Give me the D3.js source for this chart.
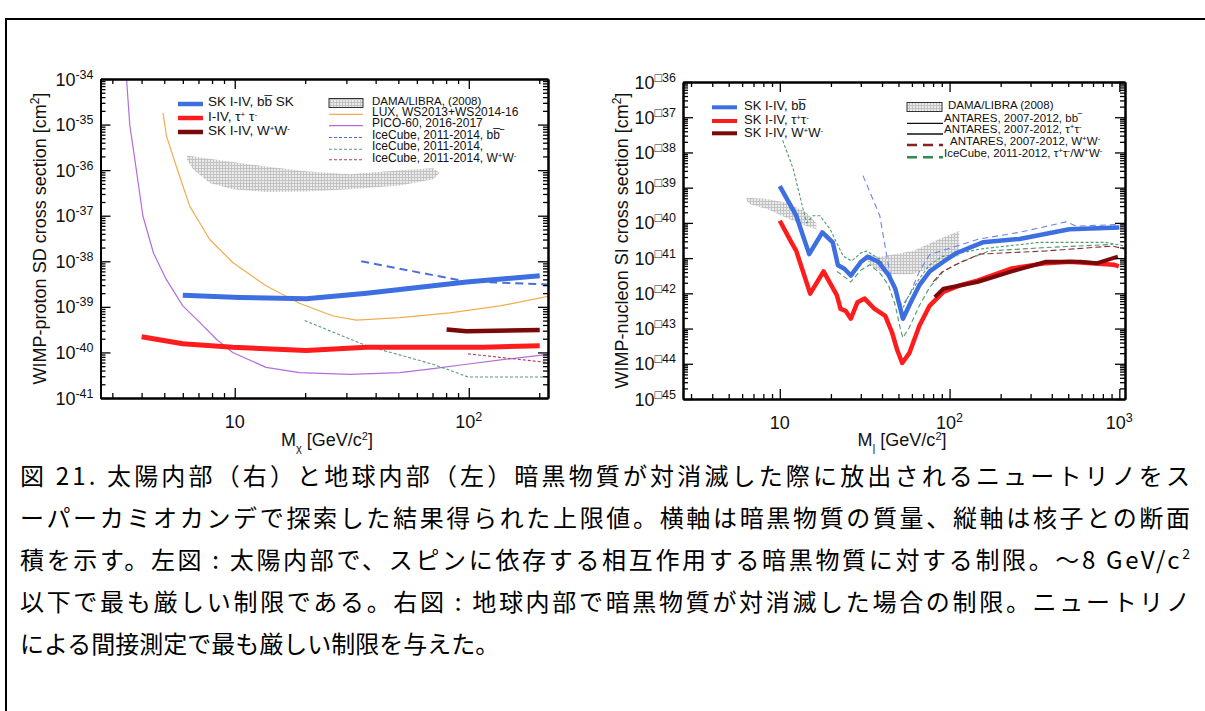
<!DOCTYPE html>
<html>
<head>
<meta charset="utf-8">
<script src="https://cdn.jsdelivr.net/npm/d3@7"></script>
<style>
body { margin: 0; background: #fff; }
svg text { font-family: "Liberation Sans", Arial, sans-serif; fill: #111; }
svg text.caption { font-family: "Noto Sans CJK JP", sans-serif; fill: #000; }
</style>
</head>
<body>
<svg id="fig" width="1205" height="711"></svg>
<script>
// ---------- left panel data (SD, Sun) : mass [GeV], cross section [cm2]
var picoMass  = [3.45, 3.56, 3.8, 4.05, 4.5, 5.1, 6.0, 7.1, 8.35, 9.8, 13.6, 18.9, 31, 50.7, 70.4, 97.8, 145, 218];
var picoSigma = [1e-34, 1e-35, 1e-36, 1e-37, 1.5e-38, 4.0e-39, 1.05e-39, 4.5e-40, 1.95e-40, 1.0e-40, 4.7e-41, 3.6e-41, 3.3e-41, 3.6e-41, 4.4e-41, 5.5e-41, 7.1e-41, 9.1e-41];
var luxMass   = [4.94, 5.11, 5.63, 6.43, 7.82, 9.83, 13.6, 18.9, 26.3, 33.1, 50.7, 83, 136, 218];
var luxSigma  = [1.8e-35, 5.6e-36, 1.2e-36, 1.6e-37, 3.0e-38, 9.3e-39, 2.9e-39, 1.2e-39, 6.3e-40, 5.1e-40, 5.8e-40, 7.4e-40, 1.05e-39, 1.7e-39];
var skBbMass  = [6.0, 10.5, 20.2, 36.6, 70.4, 97.8, 201];
var skBbSigma = [1.8e-39, 1.6e-39, 1.5e-39, 2.0e-39, 2.9e-39, 3.5e-39, 4.8e-39];
var skTauMass  = [4.0, 6.0, 9.8, 20.2, 36.6, 70.4, 115, 201];
var skTauSigma = [2.2e-40, 1.55e-40, 1.3e-40, 1.1e-40, 1.3e-40, 1.3e-40, 1.3e-40, 1.4e-40];
var skWWMass  = [80.4, 97.8, 201];
var skWWSigma = [3.2e-40, 2.9e-40, 3.1e-40];
var iceBbMass  = [34.7, 94.6, 136, 218];
var iceBbSigma = [1.0e-38, 3.7e-39, 3.4e-39, 3.1e-39];
var iceTauMass  = [19.9, 36.6, 70.4, 99.3, 218];
var iceTauSigma = [5.0e-40, 1.4e-40, 5.5e-41, 2.9e-41, 2.9e-41];
var iceWWMass  = [99.3, 218];
var iceWWSigma = [9.3e-41, 6.0e-41];
// DAMA/LIBRA contour, upper edge then lower edge
var damaLMass  = [6.25, 8.35, 13.6, 20.2, 31, 50.7, 70.4, 75.2, 70.4, 50.7, 31, 20.2, 13.6, 9.83, 7.82, 6.63, 6.25];
var damaLSigma = [2.1e-36, 1.7e-36, 1.2e-36, 9.5e-37, 8.1e-37, 1.0e-36, 1.1e-36, 8.7e-37, 6.3e-37, 4.6e-37, 3.8e-37, 3.4e-37, 3.3e-37, 3.8e-37, 5.2e-37, 1.05e-36, 1.7e-36];

// ---------- right panel data (SI, Earth)
var rBbMass  = [10, 12.5, 14.9, 17.8, 20.5, 22, 24, 26.2, 30.1, 33, 38, 43.7, 47.9, 53.1, 59.1, 66.4, 76.4, 92, 110, 157, 258, 508, 1000];
var rBbSigma = [1.1e-39, 1.6e-40, 1.3e-41, 5.4e-41, 2.8e-41, 6.3e-42, 5.0e-42, 3.2e-42, 7.9e-42, 1.1e-41, 7.9e-42, 3.3e-42, 1.35e-42, 1.9e-43, 5.6e-43, 1.7e-42, 4.2e-42, 7.9e-42, 1.4e-41, 2.8e-41, 3.5e-41, 6.6e-41, 7.4e-41];
var rTauMass  = [10, 11.7, 12.5, 15.1, 18.1, 21.7, 22.8, 24.4, 26.2, 28.7, 31.6, 36.2, 41.8, 45.9, 49.1, 52.6, 57.9, 66.4, 76.4, 92, 116, 146, 233, 370, 510, 926, 993];
var rTauSigma = [1.15e-40, 2.8e-41, 1.6e-41, 9.8e-43, 4.2e-42, 8.7e-43, 3.6e-43, 3.2e-43, 1.9e-43, 5.6e-43, 7.1e-43, 3.6e-43, 2.3e-43, 7.6e-44, 2.5e-44, 1.05e-44, 2.0e-44, 1.2e-43, 4.5e-43, 1.1e-42, 1.7e-42, 2.3e-42, 5.1e-42, 7.2e-42, 7.9e-42, 6.5e-42, 5.8e-42];
var rWWMass  = [81.8, 92, 146, 233, 370, 590, 740, 980];
var rWWSigma = [7.8e-43, 1.35e-42, 2.1e-42, 4.2e-42, 7.9e-42, 7.9e-42, 7.2e-42, 1.1e-41];
var rIceBbMass  = [30.9, 38.8, 44, 49.1, 52.6, 57.9, 66.4, 76.4, 150, 258, 486, 556, 1080];
var rIceBbSigma = [2.2e-39, 1.6e-40, 5.0e-42, 7.1e-43, 4.5e-43, 8.7e-43, 4.2e-42, 1.26e-41, 3.5e-41, 5.4e-41, 1.07e-40, 8.1e-41, 9.1e-41];
var rIceAMass  = [10.4, 12, 13.7, 14.4, 15.7, 17.2, 19.8, 23.6, 26.5, 30, 32.4, 38.8, 44, 48, 52.6, 57, 66, 76, 90, 105, 150, 340, 830, 1080];
var rIceASigma = [2.2e-38, 3.4e-39, 2.5e-40, 1.0e-40, 1.6e-40, 1.6e-40, 6.6e-41, 1.15e-41, 8.3e-42, 1.4e-41, 1.6e-41, 9.3e-42, 3.2e-42, 1.0e-42, 3.5e-43, 7.9e-43, 2.5e-42, 6.3e-42, 1.1e-41, 1.26e-41, 1.8e-41, 2.8e-41, 2.8e-41, 2.2e-41];
var rIceBMass  = [21.7, 23.3, 26.2, 30.1, 33.8, 39, 43.7, 47.9, 51.4, 53.1, 57.9, 66.4, 76.4, 92, 120, 172, 371, 913];
var rIceBSigma = [4.2e-42, 3.3e-42, 2.1e-42, 4.6e-42, 6.5e-42, 3.7e-42, 1.7e-42, 4.5e-43, 9.5e-44, 5.5e-44, 1.07e-43, 4.5e-43, 1.5e-42, 4.2e-42, 8.3e-42, 1.6e-41, 2.0e-41, 2.45e-41];
var rAntWWMass  = [80, 90, 105, 150, 371, 913, 1080];
var rAntWWSigma = [2.1e-42, 4.0e-42, 6.0e-42, 1.3e-41, 1.6e-41, 2.2e-41, 1.8e-41];
var rDama1Mass  = [6.37, 8.35, 10.9, 14.3, 16.4, 16.4, 14.3, 10.9, 8.35, 6.66, 6.37];
var rDama1Sigma = [5.2e-40, 4.8e-40, 3.8e-40, 2.0e-40, 1.0e-40, 6.6e-41, 8.1e-41, 1.4e-40, 2.5e-40, 3.4e-40, 4.3e-40];
var rDama2Mass  = [33, 39, 61, 87, 114, 114, 90, 76, 60, 45, 36, 33];
var rDama2Sigma = [1.26e-41, 1.1e-41, 1.6e-41, 3.5e-41, 5.9e-41, 1.15e-41, 7.9e-42, 5.0e-42, 3.5e-42, 3.5e-42, 5.0e-42, 7.9e-42];

// ---------- tick labels
var leftXLabels  = [[10, "10"], [100, "10^{2}"]];
var rightXLabels = [[10, "10"], [100, "10^{2}"], [1000, "10^{3}"]];
var leftYExp  = [-34, -35, -36, -37, -38, -39, -40, -41];
var rightYExp = [-36, -37, -38, -39, -40, -41, -42, -43, -44, -45];

// ---------- caption
var captionLines = [
  "図 21. 太陽内部（右）と地球内部（左）暗黒物質が対消滅した際に放出されるニュートリノをス",
  "ーパーカミオカンデで探索した結果得られた上限値。横軸は暗黒物質の質量、縦軸は核子との断面",
  "積を示す。左図 : 太陽内部で、スピンに依存する相互作用する暗黒物質に対する制限。～8 GeV/c^{2}",
  "以下で最も厳しい制限である。右図 : 地球内部で暗黒物質が対消滅した場合の制限。ニュートリノ",
  "による間接測定で最も厳しい制限を与えた。"
];

var svg = d3.select("#fig");

// hatch used for DAMA/LIBRA regions
var pat = svg.append("defs").append("pattern")
    .attr("id", "hatch").attr("patternUnits", "userSpaceOnUse")
    .attr("width", 3).attr("height", 3);
pat.append("rect").attr("width", 3).attr("height", 3).attr("fill", "#ebebeb");
pat.append("path").attr("d", "M0,0.5H3M0.5,0V3").attr("stroke", "#c2c2c2").attr("stroke-width", 1);

// page frame
svg.append("path").attr("d", "M6,711V19H1205").attr("fill", "none").attr("stroke", "#000").attr("stroke-width", 2);

// writes "a^{b}" / "a_{b}" as tspans
function rich(t, s, small) {
  s.split(/(\^\{[^}]*\}|_\{[^}]*\})/).forEach(function(p) {
    if (!p) return;
    if (p[0] === "^") t.append("tspan").attr("baseline-shift", "super").attr("font-size", small).text(p.slice(2, -1));
    else if (p[0] === "_") t.append("tspan").attr("baseline-shift", "sub").attr("font-size", small).text(p.slice(2, -1));
    else t.append("tspan").text(p);
  });
}

function drawPanel(cfg) {
  var g = svg.append("g");
  var x = d3.scaleLog().domain(cfg.xDomain).range(cfg.xRange);
  var y = d3.scaleLog().domain(cfg.yDomain).range(cfg.yRange);
  var line = d3.line().x(function(d) { return x(d[0]); }).y(function(d) { return y(d[1]); });

  // regions
  cfg.regions.forEach(function(r) {
    g.append("path").datum(d3.zip(r[0], r[1]))
      .attr("d", function(d) { return line(d) + "Z"; })
      .attr("fill", "url(#hatch)").attr("stroke", "none");
  });

  // curves
  var clip = "clip" + cfg.id;
  g.append("clipPath").attr("id", clip).append("rect")
    .attr("x", cfg.xRange[0]).attr("y", cfg.yRange[1])
    .attr("width", cfg.xRange[1] - cfg.xRange[0]).attr("height", cfg.yRange[0] - cfg.yRange[1]);
  cfg.series.forEach(function(s) {
    g.append("path").datum(d3.zip(s.m, s.v))
      .attr("clip-path", "url(#" + clip + ")")
      .attr("d", line).attr("fill", "none")
      .attr("stroke", s.color).attr("stroke-width", s.w)
      .attr("stroke-dasharray", s.dash || null)
      .attr("stroke-linejoin", "round");
  });

  // ticks on four sides, pointing inward
  var xMajor = [], xMinor = [], yMajor = [], yMinor = [];
  for (var e = -1; e <= 4; e++) for (var k = 1; k < 10; k++) {
    var v = k * Math.pow(10, e);
    if (v < cfg.xDomain[0] || v > cfg.xDomain[1]) continue;
    (k === 1 ? xMajor : xMinor).push(v);
  }
  for (var e2 = -46; e2 <= -33; e2++) for (var k2 = 1; k2 < 10; k2++) {
    var v2 = k2 * Math.pow(10, e2);
    if (v2 < cfg.yDomain[0] * 0.999 || v2 > cfg.yDomain[1] * 1.001) continue;
    (k2 === 1 ? yMajor : yMinor).push(v2);
  }
  var axes = [
    [d3.axisBottom(x), cfg.yRange[0], "x"], [d3.axisTop(x), cfg.yRange[1], "x"],
    [d3.axisLeft(y), cfg.xRange[0], "y"], [d3.axisRight(y), cfg.xRange[1], "y"]
  ];
  axes.forEach(function(a) {
    [[a[2] === "x" ? xMinor : yMinor, 5], [a[2] === "x" ? xMajor : yMajor, 10]].forEach(function(set) {
      var ax = a[0].tickValues(set[0]).tickSize(-set[1]).tickSizeOuter(0).tickFormat("");
      var tr = a[2] === "x" ? "translate(0," + a[1] + ")" : "translate(" + a[1] + ",0)";
      var ag = g.append("g").attr("transform", tr).call(ax);
      ag.selectAll(".tick line").attr("stroke", "#000").attr("stroke-width", 1.3);
      ag.select(".domain").attr("stroke", "#000").attr("stroke-width", 2);
    });
  });

  // tick labels
  cfg.xLabels.forEach(function(l) {
    var t = g.append("text").attr("x", x(l[0])).attr("y", cfg.yRange[0] + 30)
      .attr("text-anchor", "middle").attr("font-size", 18);
    rich(t, l[1], 12.5);
  });
  cfg.yExp.forEach(function(ex) {
    var t = g.append("text").attr("x", cfg.xRange[0] - 7).attr("y", y(Math.pow(10, ex)) + 6.5)
      .attr("text-anchor", "end").attr("font-size", 18);
    rich(t, "10^{" + cfg.expPrefix + Math.abs(ex) + "}", 12.5);
  });

  // axis titles
  var xt = g.append("text").attr("x", cfg.xTitleX).attr("y", 446)
    .attr("text-anchor", "middle").attr("font-size", 18);
  rich(xt, cfg.xTitle, 11);
  var yt = g.append("text")
    .attr("transform", "translate(" + cfg.yTitleX + "," + ((cfg.yRange[0] + cfg.yRange[1]) / 2) + ") rotate(-90)")
    .attr("text-anchor", "middle").attr("font-size", 18);
  rich(yt, cfg.yTitle, 12);

  // legend
  cfg.legend.forEach(function(l) {
    if (l.box) {
      g.append("rect").attr("x", l.x0).attr("y", l.y - 4.5).attr("width", l.x1 - l.x0).attr("height", 9)
        .attr("fill", "url(#hatch)").attr("stroke", "#333").attr("stroke-width", 1);
    } else if (l.color) {
      g.append("line").attr("x1", l.x0).attr("x2", l.x1).attr("y1", l.y).attr("y2", l.y)
        .attr("stroke", l.color).attr("stroke-width", l.w).attr("stroke-dasharray", l.dash || null);
    }
    var t = g.append("text").attr("x", l.tx).attr("y", l.ty + 4).attr("font-size", l.fs || 11.5);
    rich(t, l.text, 8);
  });
}

var cBlue = "#3e6fe0", cRed = "#ff1c1c", cDark = "#7a0a0a";

drawPanel({
  id: "L",
  xDomain: [2.67, 218], xRange: [100.5, 548],
  yDomain: [1e-41, 1e-34], yRange: [398, 79],
  regions: [[damaLMass, damaLSigma]],
  series: [
    { m: picoMass, v: picoSigma, color: "#b36ddb", w: 1.2 },
    { m: luxMass, v: luxSigma, color: "#f2ac4f", w: 1.2 },
    { m: iceTauMass, v: iceTauSigma, color: "#5a9a7c", w: 1.1, dash: "3,2" },
    { m: iceWWMass, v: iceWWSigma, color: "#b0405a", w: 1.1, dash: "3,2" },
    { m: iceBbMass, v: iceBbSigma, color: "#4a6fd6", w: 2, dash: "8,5" },
    { m: skBbMass, v: skBbSigma, color: cBlue, w: 5 },
    { m: skTauMass, v: skTauSigma, color: cRed, w: 5 },
    { m: skWWMass, v: skWWSigma, color: cDark, w: 4.5 }
  ],
  xLabels: leftXLabels, yExp: leftYExp, expPrefix: "-",
  xTitle: "M_{χ} [GeV/c^{2}]", xTitleX: 327,
  yTitle: "WIMP-proton SD cross section [cm^{2}]", yTitleX: 46,
  legend: [
    { x0: 178, x1: 203, y: 104, color: cBlue, w: 4.5, tx: 208, ty: 102, text: "SK I-IV,  bb\u0305 SK", fs: 13.5 },
    { x0: 178, x1: 203, y: 118, color: cRed, w: 4.5, tx: 208, ty: 116.5, text: "I-IV,  τ^{+} τ^{-}", fs: 13.5 },
    { x0: 178, x1: 203, y: 132, color: cDark, w: 4.5, tx: 208, ty: 131, text: "SK I-IV,  W^{+}W^{-}", fs: 13.5 },
    { box: true, x0: 329, x1: 363, y: 103, tx: 372, ty: 100.5, text: "DAMA/LIBRA, (2008)", fs: 11.5 },
    { x0: 329, x1: 363, y: 114.3, color: "#f2ac4f", w: 1.2, tx: 372, ty: 112, text: "LUX, WS2013+WS2014-16", fs: 12 },
    { x0: 329, x1: 363, y: 125.7, color: "#b36ddb", w: 1.2, tx: 372, ty: 122.8, text: "PICO-60, 2016-2017", fs: 12 },
    { x0: 329, x1: 363, y: 137.5, color: "#4a6fd6", w: 1.1, dash: "3,2", tx: 372, ty: 134.5, text: "IceCube, 2011-2014,  bb\u0305\u203e", fs: 12 },
    { x0: 329, x1: 363, y: 149.3, color: "#5a9a7c", w: 1.1, dash: "3,2", tx: 372, ty: 146.3, text: "IceCube, 2011-2014,", fs: 12 },
    { x0: 329, x1: 363, y: 159.8, color: "#b0405a", w: 1.1, dash: "3,2", tx: 372, ty: 158.3, text: "IceCube, 2011-2014,  W^{+}W^{-}", fs: 12 }
  ]
});

drawPanel({
  id: "R",
  xDomain: [2.69, 1080], xRange: [683, 1125],
  yDomain: [1e-45, 1e-36], yRange: [399, 82],
  regions: [[rDama1Mass, rDama1Sigma], [rDama2Mass, rDama2Sigma]],
  series: [
    { m: rIceBbMass, v: rIceBbSigma, color: "#6a86e6", w: 1.1, dash: "6,4" },
    { m: rIceAMass, v: rIceASigma, color: "#4f9a6a", w: 1.1, dash: "3,2" },
    { m: rIceBMass, v: rIceBSigma, color: "#4f9a6a", w: 1.1, dash: "5,3" },
    { m: rAntWWMass, v: rAntWWSigma, color: "#8a3030", w: 1.1, dash: "6,3" },
    { m: rBbMass, v: rBbSigma, color: cBlue, w: 4.5 },
    { m: rTauMass, v: rTauSigma, color: cRed, w: 4.5 },
    { m: rWWMass, v: rWWSigma, color: cDark, w: 4 }
  ],
  xLabels: rightXLabels, yExp: rightYExp, expPrefix: "\u25a1",
  xTitle: "M_{|} [GeV/c^{2}]", xTitleX: 902,
  yTitle: "WIMP-nucleon SI cross section [cm^{2}]", yTitleX: 628,
  legend: [
    { x0: 712, x1: 737, y: 107.3, color: cBlue, w: 4, tx: 744, ty: 106, text: "SK I-IV,  bb\u0305", fs: 13 },
    { x0: 712, x1: 737, y: 121, color: cRed, w: 4, tx: 744, ty: 120, text: "SK I-IV,  τ^{+}τ^{-}", fs: 13 },
    { x0: 712, x1: 737, y: 133.3, color: cDark, w: 4, tx: 744, ty: 132.5, text: "SK I-IV,  W^{+}W^{-}", fs: 13 },
    { box: true, x0: 907, x1: 942, y: 107, tx: 948, ty: 105, text: "DAMA/LIBRA  (2008)" },
    { x0: 907, x1: 943, y: 123.3, color: "#111", w: 1.3, tx: 944, ty: 117.5, text: "ANTARES,  2007-2012,  bb\u203e" },
    { x0: 907, x1: 943, y: 134, color: "#111", w: 1.3, tx: 944, ty: 129.3, text: "ANTARES,  2007-2012,  τ^{+}τ^{-}" },
    { x0: 907, x1: 943, y: 145, color: "#8a1f1f", w: 2.5, dash: "10,6", tx: 950, ty: 141, text: "ANTARES,  2007-2012,  W^{+}W^{-}" },
    { x0: 907, x1: 943, y: 157.3, color: "#2f8a55", w: 2.5, dash: "10,6", tx: 944, ty: 152.5, text: "IceCube, 2011-2012, τ^{+}τ^{-}/W^{+}W^{-}" }
  ]
});

// caption, lines 1-4 justified to the same width
captionLines.forEach(function(s, i) {
  var t = svg.append("text").attr("class", "caption")
    .attr("x", 20).attr("y", 485 + i * 42).attr("font-size", 24);
  if (i < 4) t.attr("textLength", 1170).attr("lengthAdjust", "spacing");
  rich(t, s, 14);
});
</script>
</body>
</html>
